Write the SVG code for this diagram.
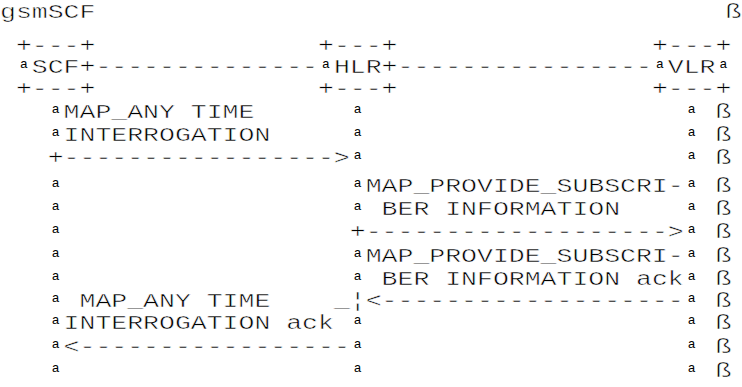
<svg xmlns="http://www.w3.org/2000/svg" width="742" height="387" viewBox="0 0 742 387">
<style>
text{font-family:"Liberation Mono","DejaVu Sans Mono",monospace;fill:#000}
.t{font-size:20px;stroke:#fff;stroke-width:0.5px}
.a{font-size:13px;text-anchor:middle}
</style>
<rect x="0" y="0" width="742" height="387" fill="#fff"/>
<g id="title">
<text class="t" x="0" y="18" textLength="95.4" lengthAdjust="spacingAndGlyphs">gsmSCF</text>
<text class="t" x="725.5" y="18" textLength="15.9" lengthAdjust="spacingAndGlyphs">ß</text>
</g>
<g id="node-scf">
<text class="t" x="15.9" y="51.5" textLength="79.5" lengthAdjust="spacingAndGlyphs">+---+</text>
<text class="a" x="23.85" y="67.5">a</text>
<text class="t" x="31.8" y="72.5" textLength="63.6" lengthAdjust="spacingAndGlyphs">SCF+</text>
<text class="t" x="15.9" y="94.5" textLength="79.5" lengthAdjust="spacingAndGlyphs">+---+</text>
</g>
<g id="node-hlr">
<text class="t" x="318" y="51.5" textLength="79.5" lengthAdjust="spacingAndGlyphs">+---+</text>
<text class="a" x="325.95" y="67.5">a</text>
<text class="t" x="333.9" y="72.5" textLength="63.6" lengthAdjust="spacingAndGlyphs">HLR+</text>
<text class="t" x="318" y="94.5" textLength="79.5" lengthAdjust="spacingAndGlyphs">+---+</text>
</g>
<g id="node-vlr">
<text class="t" x="651.9" y="51.5" textLength="79.5" lengthAdjust="spacingAndGlyphs">+---+</text>
<text class="a" x="659.85" y="67.5">a</text>
<text class="t" x="667.8" y="72.5" textLength="47.7" lengthAdjust="spacingAndGlyphs">VLR</text>
<text class="a" x="723.45" y="67.5">a</text>
<text class="t" x="651.9" y="94.5" textLength="79.5" lengthAdjust="spacingAndGlyphs">+---+</text>
</g>
<g id="connectors">
<text class="t" x="95.4" y="72.5" textLength="222.6" lengthAdjust="spacingAndGlyphs">--------------</text>
<text class="t" x="397.5" y="72.5" textLength="254.4" lengthAdjust="spacingAndGlyphs">----------------</text>
<text class="t" x="47.7" y="163.5" textLength="302.1" lengthAdjust="spacingAndGlyphs">+-----------------&gt;</text>
<text class="t" x="349.8" y="237.5" textLength="333.9" lengthAdjust="spacingAndGlyphs">+-------------------&gt;</text>
<text class="t" x="333.9" y="306.5" textLength="15.9" lengthAdjust="spacingAndGlyphs">_</text>
<text class="t" x="349.8" y="306.5" textLength="15.9" lengthAdjust="spacingAndGlyphs">¦</text>
<text class="t" x="365.7" y="306.5" textLength="318" lengthAdjust="spacingAndGlyphs">&lt;-------------------</text>
<text class="t" x="63.6" y="352.5" textLength="286.2" lengthAdjust="spacingAndGlyphs">&lt;-----------------</text>
</g>
<g id="labels">
<text class="t" x="63.6" y="117.5" textLength="190.8" lengthAdjust="spacingAndGlyphs">MAP_ANY TIME</text>
<text class="t" x="63.6" y="140.5" textLength="206.7" lengthAdjust="spacingAndGlyphs">INTERROGATION</text>
<text class="t" x="365.7" y="191.5" textLength="318" lengthAdjust="spacingAndGlyphs">MAP_PROVIDE_SUBSCRI-</text>
<text class="t" x="381.6" y="214.5" textLength="238.5" lengthAdjust="spacingAndGlyphs">BER INFORMATION</text>
<text class="t" x="365.7" y="261.5" textLength="318" lengthAdjust="spacingAndGlyphs">MAP_PROVIDE_SUBSCRI-</text>
<text class="t" x="381.6" y="284.5" textLength="302.1" lengthAdjust="spacingAndGlyphs">BER INFORMATION ack</text>
<text class="t" x="79.5" y="306.5" textLength="190.8" lengthAdjust="spacingAndGlyphs">MAP_ANY TIME</text>
<text class="t" x="63.6" y="328.5" textLength="270.3" lengthAdjust="spacingAndGlyphs">INTERROGATION ack</text>
</g>
<g id="lifeline-scf">
<text class="a" x="55.65" y="112.5">a</text>
<text class="a" x="55.65" y="135.5">a</text>
<text class="a" x="55.65" y="186.5">a</text>
<text class="a" x="55.65" y="209.5">a</text>
<text class="a" x="55.65" y="232.5">a</text>
<text class="a" x="55.65" y="256.5">a</text>
<text class="a" x="55.65" y="279.5">a</text>
<text class="a" x="55.65" y="301.5">a</text>
<text class="a" x="55.65" y="323.5">a</text>
<text class="a" x="55.65" y="347.5">a</text>
<text class="a" x="55.65" y="371.5">a</text>
</g>
<g id="lifeline-hlr">
<text class="a" x="357.75" y="112.5">a</text>
<text class="a" x="357.75" y="135.5">a</text>
<text class="a" x="357.75" y="158.5">a</text>
<text class="a" x="357.75" y="186.5">a</text>
<text class="a" x="357.75" y="209.5">a</text>
<text class="a" x="357.75" y="256.5">a</text>
<text class="a" x="357.75" y="279.5">a</text>
<text class="a" x="357.75" y="323.5">a</text>
<text class="a" x="357.75" y="347.5">a</text>
<text class="a" x="357.75" y="371.5">a</text>
</g>
<g id="lifeline-vlr">
<text class="a" x="691.65" y="112.5">a</text>
<text class="a" x="691.65" y="135.5">a</text>
<text class="a" x="691.65" y="158.5">a</text>
<text class="a" x="691.65" y="186.5">a</text>
<text class="a" x="691.65" y="209.5">a</text>
<text class="a" x="691.65" y="232.5">a</text>
<text class="a" x="691.65" y="256.5">a</text>
<text class="a" x="691.65" y="279.5">a</text>
<text class="a" x="691.65" y="301.5">a</text>
<text class="a" x="691.65" y="323.5">a</text>
<text class="a" x="691.65" y="347.5">a</text>
<text class="a" x="691.65" y="371.5">a</text>
</g>
<g id="margin">
<text class="t" x="715.5" y="117.5" textLength="15.9" lengthAdjust="spacingAndGlyphs">ß</text>
<text class="t" x="715.5" y="140.5" textLength="15.9" lengthAdjust="spacingAndGlyphs">ß</text>
<text class="t" x="715.5" y="163.5" textLength="15.9" lengthAdjust="spacingAndGlyphs">ß</text>
<text class="t" x="715.5" y="191.5" textLength="15.9" lengthAdjust="spacingAndGlyphs">ß</text>
<text class="t" x="715.5" y="214.5" textLength="15.9" lengthAdjust="spacingAndGlyphs">ß</text>
<text class="t" x="715.5" y="237.5" textLength="15.9" lengthAdjust="spacingAndGlyphs">ß</text>
<text class="t" x="715.5" y="261.5" textLength="15.9" lengthAdjust="spacingAndGlyphs">ß</text>
<text class="t" x="715.5" y="284.5" textLength="15.9" lengthAdjust="spacingAndGlyphs">ß</text>
<text class="t" x="715.5" y="306.5" textLength="15.9" lengthAdjust="spacingAndGlyphs">ß</text>
<text class="t" x="715.5" y="328.5" textLength="15.9" lengthAdjust="spacingAndGlyphs">ß</text>
<text class="t" x="715.5" y="352.5" textLength="15.9" lengthAdjust="spacingAndGlyphs">ß</text>
<text class="t" x="715.5" y="376.5" textLength="15.9" lengthAdjust="spacingAndGlyphs">ß</text>
</g>
</svg>
